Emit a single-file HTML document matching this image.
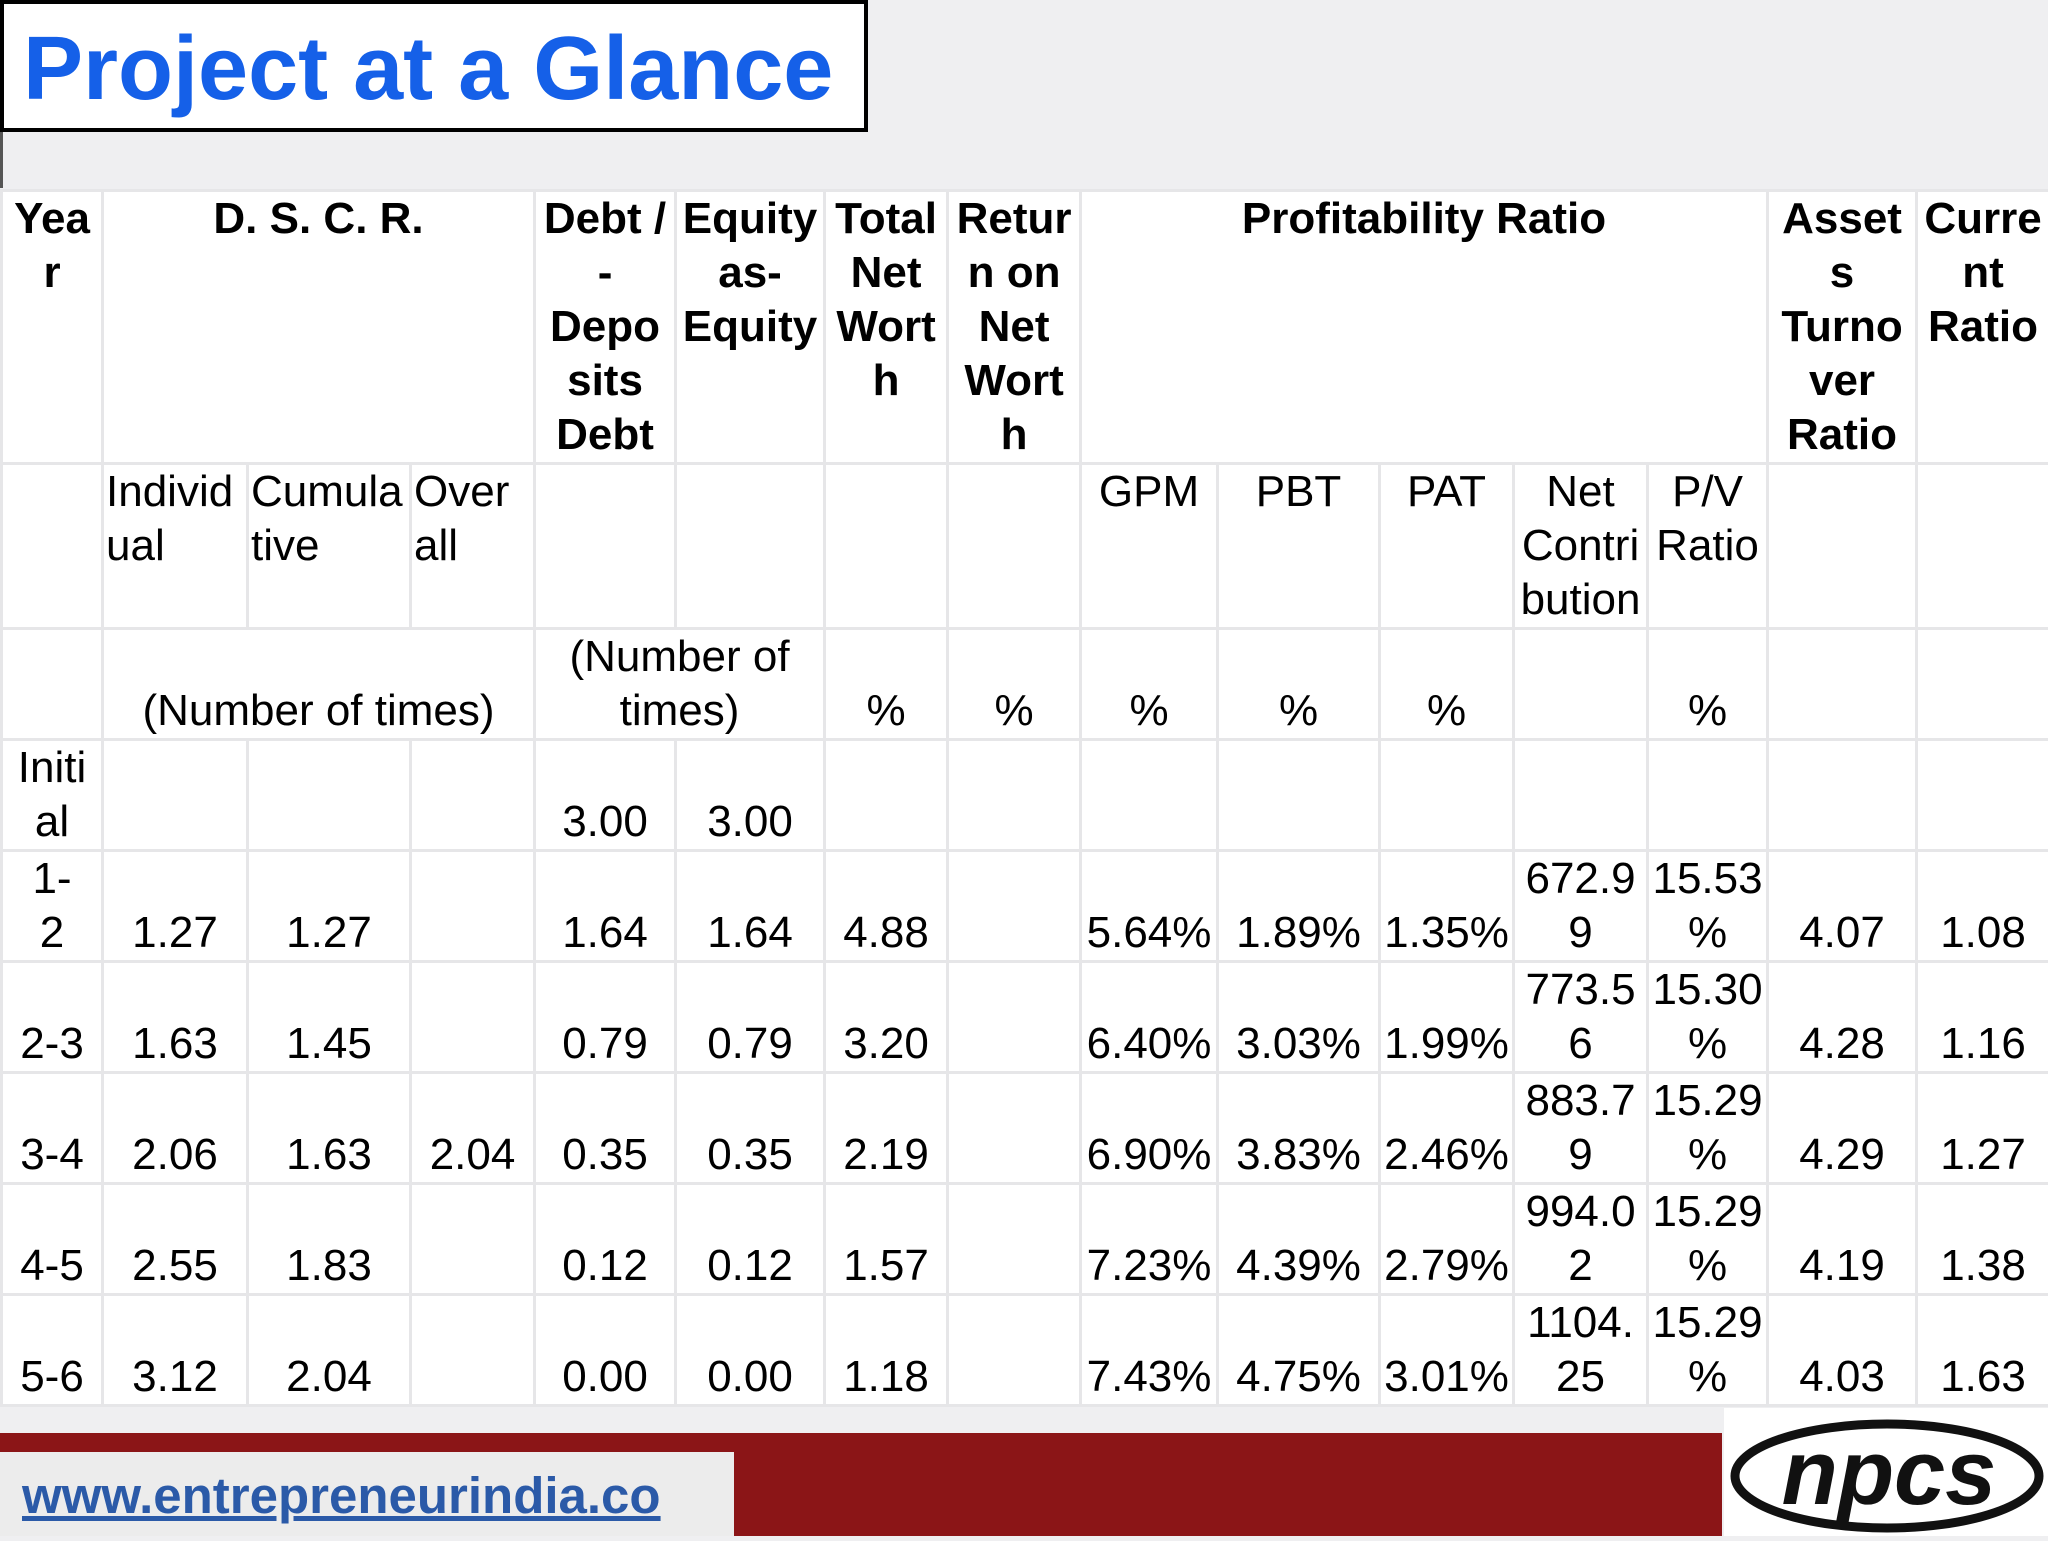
<!DOCTYPE html>
<html><head><meta charset="utf-8">
<style>
html,body{margin:0;padding:0;}
body{width:2048px;height:1536px;position:relative;overflow:hidden;background:#efeff1;font-family:"Liberation Sans",Arial,sans-serif;}
#title-box{position:absolute;left:0;top:0;width:860px;height:124px;border:4px solid #000;background:#fff;}
#title-box span{position:absolute;left:19px;top:10px;font-weight:bold;font-size:90px;line-height:110px;color:#1560e8;white-space:nowrap;}
#left-line{position:absolute;left:0;top:132px;width:3px;height:56px;background:#555;}
table{position:absolute;left:0;top:189px;width:2048px;border-collapse:collapse;table-layout:fixed;background:#fff;}
td{border:3px solid #e6e6e8;padding:0 2px;font-size:44px;line-height:54px;color:#000;text-align:center;vertical-align:bottom;overflow:hidden;white-space:nowrap;}
tr.h1 td{font-weight:bold;vertical-align:top;height:266px;}
tr.h2 td{vertical-align:top;height:161px;}
tr.h2 td.l{text-align:left;}
tr.h3 td{height:106px;}
tr.d td{height:105px;}
#footer-red{position:absolute;left:0;top:1433px;width:1722px;height:103px;background:#8b1517;}
#url-box{position:absolute;left:0;top:1452px;width:734px;height:84px;background:#ececec;}
#url-box a{position:absolute;left:22px;top:14px;font-size:51px;font-weight:bold;color:#2b5aa8;text-decoration:underline;white-space:nowrap;}
#logo{position:absolute;left:1724px;top:1408px;width:324px;height:128px;background:#fff;}
</style></head>
<body>
<div id="title-box"><span>Project at a Glance</span></div>
<div id="left-line"></div>
<table>
<colgroup><col style="width:101px"><col style="width:145px"><col style="width:163px"><col style="width:124px"><col style="width:141px"><col style="width:149px"><col style="width:123px"><col style="width:133px"><col style="width:137px"><col style="width:162px"><col style="width:134px"><col style="width:134px"><col style="width:120px"><col style="width:149px"><col style="width:133px"></colgroup>
<tr class="h1">
<td>Yea<br>r</td>
<td colspan="3">D. S. C. R.</td>
<td>Debt /<br>-<br>Depo<br>sits<br>Debt</td>
<td>Equity<br>as-<br>Equity</td>
<td>Total<br>Net<br>Wort<br>h</td>
<td>Retur<br>n on<br>Net<br>Wort<br>h</td>
<td colspan="5">Profitability Ratio</td>
<td>Asset<br>s<br>Turno<br>ver<br>Ratio</td>
<td>Curre<br>nt<br>Ratio</td>
</tr>
<tr class="h2">
<td></td><td class="l">Individ<br>ual</td><td class="l">Cumula<br>tive</td><td class="l">Over<br>all</td>
<td></td><td></td><td></td><td></td>
<td>GPM</td><td>PBT</td><td>PAT</td><td>Net<br>Contri<br>bution</td><td>P/V<br>Ratio</td><td></td><td></td>
</tr>
<tr class="h3">
<td></td><td colspan="3">(Number of times)</td><td colspan="2">(Number of<br>times)</td>
<td>%</td><td>%</td><td>%</td><td>%</td><td>%</td><td></td><td>%</td><td></td><td></td>
</tr>
<tr class="d"><td>Initi<br>al</td><td></td><td></td><td></td><td>3.00</td><td>3.00</td><td></td><td></td><td></td><td></td><td></td><td></td><td></td><td></td><td></td></tr>
<tr class="d"><td>1-<br>2</td><td>1.27</td><td>1.27</td><td></td><td>1.64</td><td>1.64</td><td>4.88</td><td></td><td>5.64%</td><td>1.89%</td><td>1.35%</td><td>672.9<br>9</td><td>15.53<br>%</td><td>4.07</td><td>1.08</td></tr>
<tr class="d"><td>2-3</td><td>1.63</td><td>1.45</td><td></td><td>0.79</td><td>0.79</td><td>3.20</td><td></td><td>6.40%</td><td>3.03%</td><td>1.99%</td><td>773.5<br>6</td><td>15.30<br>%</td><td>4.28</td><td>1.16</td></tr>
<tr class="d"><td>3-4</td><td>2.06</td><td>1.63</td><td>2.04</td><td>0.35</td><td>0.35</td><td>2.19</td><td></td><td>6.90%</td><td>3.83%</td><td>2.46%</td><td>883.7<br>9</td><td>15.29<br>%</td><td>4.29</td><td>1.27</td></tr>
<tr class="d"><td>4-5</td><td>2.55</td><td>1.83</td><td></td><td>0.12</td><td>0.12</td><td>1.57</td><td></td><td>7.23%</td><td>4.39%</td><td>2.79%</td><td>994.0<br>2</td><td>15.29<br>%</td><td>4.19</td><td>1.38</td></tr>
<tr class="d"><td>5-6</td><td>3.12</td><td>2.04</td><td></td><td>0.00</td><td>0.00</td><td>1.18</td><td></td><td>7.43%</td><td>4.75%</td><td>3.01%</td><td>1104.<br>25</td><td>15.29<br>%</td><td>4.03</td><td>1.63</td></tr>
</table>
<div id="footer-red"></div>
<div id="url-box"><a>www.entrepreneurindia.co</a></div>
<div id="logo">
<svg width="324" height="128" viewBox="0 0 324 128">
<ellipse cx="163" cy="68" rx="152" ry="52" fill="none" stroke="#111" stroke-width="9"/>
<text x="165" y="96" text-anchor="middle" font-family="Liberation Sans, sans-serif" font-weight="bold" font-style="italic" font-size="92" fill="#111">npcs</text>
</svg>
</div>
</body></html>
